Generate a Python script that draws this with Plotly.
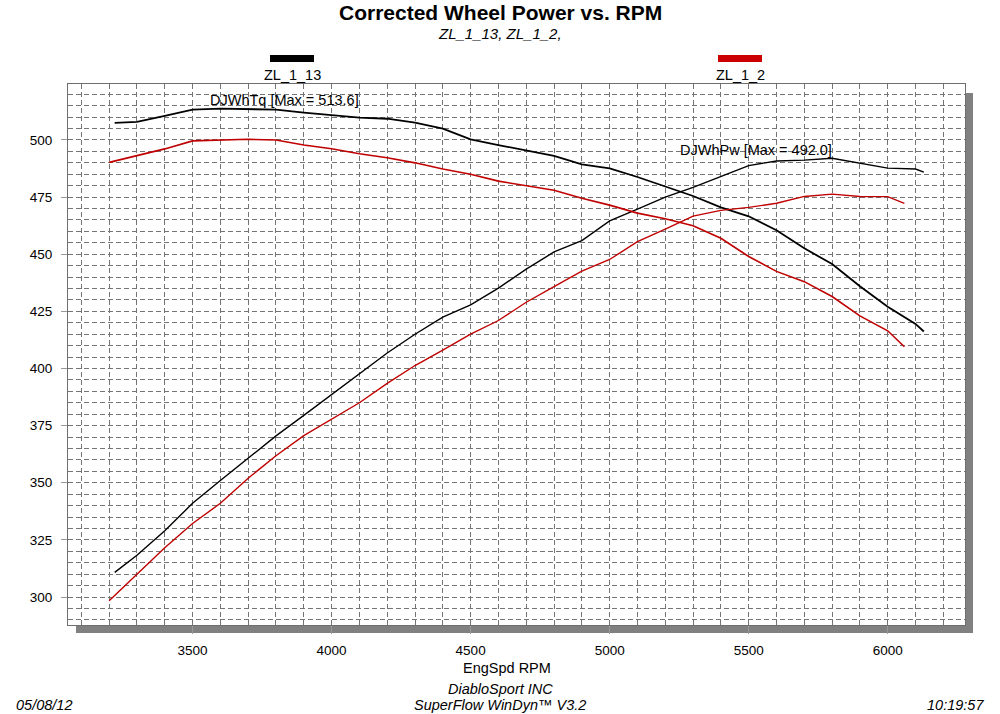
import plotly.graph_objects as go

# ---- data ----
rpm_a = [3220, 3300, 3400, 3500, 3600, 3700, 3800, 3900, 4000, 4100, 4200, 4300, 4400, 4500,
         4600, 4700, 4800, 4900, 5000, 5100, 5200, 5300, 5400, 5500, 5600, 5700, 5800, 5900,
         6000, 6100, 6130]
tq_a = [507.5, 507.9, 510.6, 513.3, 513.7, 513.6, 513.3, 512.0, 510.8, 509.8, 509.3, 507.6, 505.0,
        500.3, 497.8, 495.5, 493.0, 489.3, 487.6, 483.8, 479.5, 475.5, 470.5, 466.6, 460.5, 452.6,
        445.7, 436.0, 427.0, 419.5, 416.2]
pw_a = [310.8, 318.3, 329.0, 341.0, 351.0, 360.7, 370.5, 379.5, 388.5, 397.5, 406.8, 415.0, 422.5,
        427.8, 435.2, 443.5, 451.0, 456.0, 464.6, 469.7, 475.0, 479.3, 483.9, 488.8, 490.8, 491.2,
        492.0, 489.8, 487.7, 487.3, 485.9]

rpm_b = [3200, 3300, 3400, 3500, 3600, 3700, 3800, 3900, 4000, 4100, 4200, 4300, 4400, 4500,
         4600, 4700, 4800, 4900, 5000, 5100, 5200, 5300, 5400, 5500, 5600, 5700, 5800, 5900,
         6000, 6060]
tq_b = [490.2, 493.0, 496.1, 499.6, 500.0, 500.3, 500.0, 497.8, 496.2, 494.0, 492.2, 490.0, 487.3,
        485.0, 482.0, 480.0, 478.0, 474.5, 471.5, 468.0, 465.5, 462.5, 457.0, 449.0, 442.5, 438.0,
        431.5, 423.0, 416.5, 409.5]
pw_b = [298.4, 310.0, 321.6, 332.2, 341.0, 352.0, 361.8, 370.6, 377.8, 385.0, 393.5, 401.3, 408.0,
        415.0, 421.0, 429.0, 435.8, 442.6, 447.7, 455.5, 461.0, 466.7, 469.2, 470.5, 472.3, 475.3,
        476.3, 475.3, 475.2, 472.3]

series_names = ["ZL_1_13", "ZL_1_2"]
series_colors = ["#000000", "#c00000"]
x_ticks = [3500, 4000, 4500, 5000, 5500, 6000]
y_ticks = [300, 325, 350, 375, 400, 425, 450, 475, 500]

FONT = "Liberation Sans, Arial, sans-serif"
GRID = "#747474"
DASH = "5px,3px"
TXT = 14.5

fig = go.Figure()
fig.add_trace(go.Scatter(x=rpm_a, y=tq_a, mode="lines", line=dict(color=series_colors[0], width=1.8),
                         name=series_names[0], showlegend=False))
fig.add_trace(go.Scatter(x=rpm_a, y=pw_a, mode="lines", line=dict(color=series_colors[0], width=1.4),
                         name=series_names[0], showlegend=False))
fig.add_trace(go.Scatter(x=rpm_b, y=tq_b, mode="lines", line=dict(color=series_colors[1], width=1.6),
                         name=series_names[1], showlegend=False))
fig.add_trace(go.Scatter(x=rpm_b, y=pw_b, mode="lines", line=dict(color=series_colors[1], width=1.4),
                         name=series_names[1], showlegend=False))

grid = dict(showgrid=True, gridcolor=GRID, gridwidth=1, griddash=DASH)

fig.update_xaxes(range=[3052, 6278], tickvals=x_ticks, ticks="outside", ticklen=8,
                 tickcolor="#9a9a9a", tickwidth=1, ticklabelstandoff=5,
                 minor=dict(dtick=100, tick0=3000, showgrid=True, gridcolor=GRID,
                            griddash=DASH, gridwidth=1),
                 showline=True, mirror=True, linecolor="#6e6e6e", linewidth=1,
                 zeroline=False, tickfont=dict(family=FONT, size=13.5, color="#000"), **grid)
fig.update_yaxes(range=[287.75, 524.5], tickvals=y_ticks, ticks="outside", ticklen=6,
                 tickcolor="#9a9a9a", tickwidth=1, ticklabelstandoff=6,
                 minor=dict(dtick=5, tick0=0, showgrid=True, gridcolor=GRID,
                            griddash=DASH, gridwidth=1),
                 showline=True, mirror=True, linecolor="#6e6e6e", linewidth=1,
                 zeroline=False, tickfont=dict(family=FONT, size=13.5, color="#000"), **grid)

W, H = 1000, 714
L, R, T, B = 68, 35, 84, 89
pw_, ph_ = W - L - R, H - T - B


def px(xp):
    return (xp - L) / pw_


def py(yp):
    return (H - B - yp) / ph_


shapes = [
    # drop shadow
    dict(type="rect", xref="paper", yref="paper", x0=px(76), x1=px(973), y0=py(633), y1=py(625),
         fillcolor="#808080", line=dict(width=0), layer="below"),
    dict(type="rect", xref="paper", yref="paper", x0=px(965), x1=px(973), y0=py(633), y1=py(93),
         fillcolor="#808080", line=dict(width=0), layer="below"),
    # legend bars
    dict(type="rect", xref="paper", yref="paper", x0=px(270), x1=px(314), y0=py(62), y1=py(55),
         fillcolor=series_colors[0], line=dict(width=0)),
    dict(type="rect", xref="paper", yref="paper", x0=px(718), x1=px(762), y0=py(62), y1=py(55),
         fillcolor="#cc0000", line=dict(width=0)),
]


def note(text, x, y, size=TXT, xanchor="center", xref="paper", yref="paper"):
    return dict(text=text, x=x, y=y, xref=xref, yref=yref, showarrow=False,
                font=dict(family=FONT, size=size, color="#000"), xanchor=xanchor, yanchor="middle")


annotations = [
    note("<b>Corrected Wheel Power vs. RPM</b>", px(500), py(13), size=21),
    note("<i>ZL_1_13, ZL_1_2,</i>", px(500), py(34), size=15),
    note(series_names[0], px(292), py(75)),
    note(series_names[1], px(740), py(75)),
    note("DJWhTq [Max = 513.6]", 3554, 517.5, xanchor="left", xref="x", yref="y"),
    note("DJWhPw [Max = 492.0]", 5245, 495.6, xanchor="left", xref="x", yref="y"),
    note("EngSpd RPM", px(507), py(667.5)),
    note("<i>DiabloSport INC</i>", px(500), py(689)),
    note("<i>SuperFlow WinDyn™ V3.2</i>", px(500), py(705)),
    note("<i>05/08/12</i>", px(14), py(705), xanchor="left"),
    note("<i>10:19:57</i>", px(986), py(705), xanchor="right"),
]

fig.update_layout(
    width=W, height=H,
    margin=dict(l=L, r=R, t=T, b=B),
    paper_bgcolor="#ffffff", plot_bgcolor="#ffffff",
    showlegend=False,
    shapes=shapes, annotations=annotations,
    font=dict(family=FONT, size=12, color="#000"),
)

fig.write_html(
    "out.html",
    config={"displayModeBar": False, "staticPlot": True},
    post_script="document.body.style.margin='0';document.body.style.padding='0';"
                "document.body.style.overflow='hidden';",
)
